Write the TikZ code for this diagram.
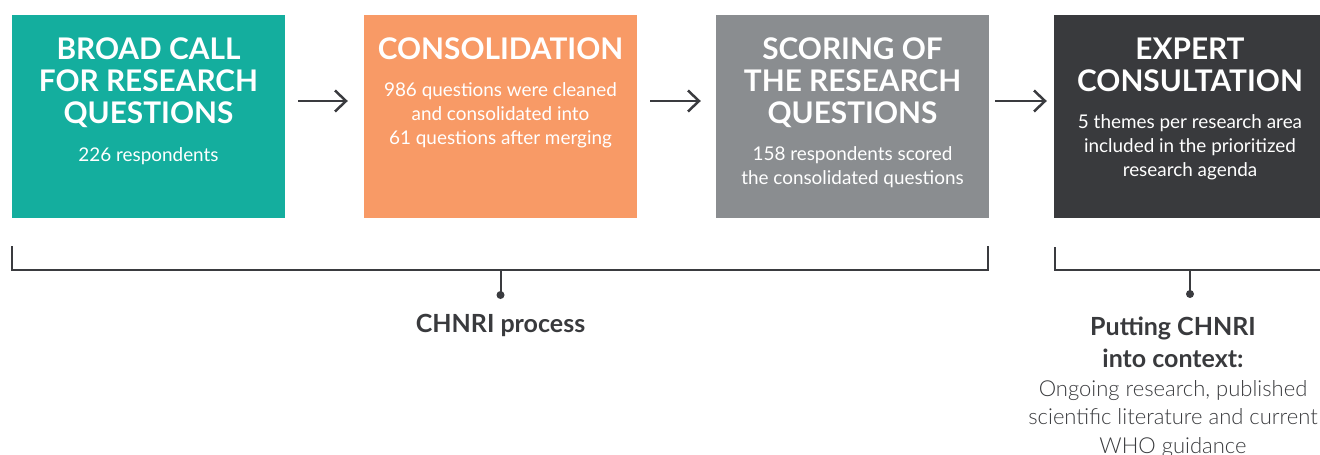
\documentclass[tikz,border=0pt]{standalone}
\usepackage{fontspec}
\setmainfont{Lato}
\newfontfamily\latolight{Lato Light}
\usetikzlibrary{arrows.meta}
\definecolor{cteal}{HTML}{14AE9E}
\definecolor{corange}{HTML}{F89A66}
\definecolor{cgray}{HTML}{8A8D90}
\definecolor{cdark}{HTML}{393A3D}
\definecolor{cline}{HTML}{3A3B3F}
\begin{document}
\begin{tikzpicture}[x=1pt,y=-1pt,
 box/.style={minimum width=273pt, minimum height=203pt, inner sep=0pt, draw=none},
 title/.style={text=white, font=\fontsize{29.8}{32}\bfseries\selectfont, align=center, anchor=north, inner sep=0pt},
 body/.style={text=white, font=\fontsize{18.9}{24}\selectfont, align=center, anchor=north, inner sep=0pt},
 arr/.style={draw=cline, line width=2.5pt, -{Straight Barb[length=11pt,width=21pt,line width=2.5pt]}},
 brk/.style={draw=cline, line width=2pt},
 dotst/.style={circle, fill=cline, inner sep=0pt, minimum size=8pt},
 lab/.style={text=cdark, font=\fontsize{25}{32}\bfseries\selectfont, align=center, inner sep=0pt},
 note/.style={text=cdark, font=\fontsize{22}{28.5}\latolight\selectfont, align=center, inner sep=0pt, anchor=north}]
\useasboundingbox (0,0) rectangle (1320,455);
% boxes
\node[box, fill=cteal] (b1) at (148.5,116.5) {};
\node[box, fill=corange] (b2) at (500.5,116.5) {};
\node[box, fill=cgray] (b3) at (852.5,116.5) {};
\node[box, fill=cdark, minimum width=266pt] (b4) at (1187,116.5) {};
% titles
\node[title] (t1) at (148.5,38) {BROAD CALL\\FOR RESEARCH\\QUESTIONS};
\node[title] (t2) at (500.5,38) {CONSOLIDATION};
\node[title] (t3) at (852.5,38) {SCORING OF\\THE RESEARCH\\QUESTIONS};
\node[title] (t4) at (1190,38) {EXPERT\\CONSULTATION};
% bodies
\node[body] (d1) at (148.5,147) {226 respondents};
\node[body] (d2) at (500.5,82) {986 questions were cleaned\\and consolidated into\\61 questions after merging};
\node[body] (d3) at (852.5,146) {158 respondents scored\\the consolidated questions};
\node[body] (d4) at (1190,114) {5 themes per research area\\included in the prioritized\\research agenda};
% arrows
\draw[arr] ([xshift=13pt,yshift=15.5pt]b1.east) -- ([xshift=-16pt,yshift=15.5pt]b2.west);
\draw[arr] ([xshift=13pt,yshift=15.5pt]b2.east) -- ([xshift=-15pt,yshift=15.5pt]b3.west);
\draw[arr] ([xshift=6pt,yshift=15.5pt]b3.east) -- ([xshift=-7pt,yshift=15.5pt]b4.west);
% brackets
\draw[brk] ([yshift=-28pt]b1.south west) -- ++(0,24) -| ([yshift=-28pt,xshift=-1pt]b3.south east);
\node[dotst] (dot1) at (500.5,295) {};
\draw[brk] (500.5,270) -- (dot1.center);
\coordinate (e2) at (1322,270);
\draw[brk] ([yshift=-29pt,xshift=1pt]b4.south west) |- (e2);
\node[dotst] (dot2) at (1190,294) {};
\draw[brk] (1190,270) -- (dot2.center);
% labels
\node[lab, anchor=base] (l1) at (500.5,332) {CHNRI process};
\node[lab, anchor=north] (l2) at (1173,317) {Putting CHNRI\\into context:};
\node[note] (l3) at (1173,380) {Ongoing research, published\\scientific literature and current\\WHO guidance};
\end{tikzpicture}
\end{document}
